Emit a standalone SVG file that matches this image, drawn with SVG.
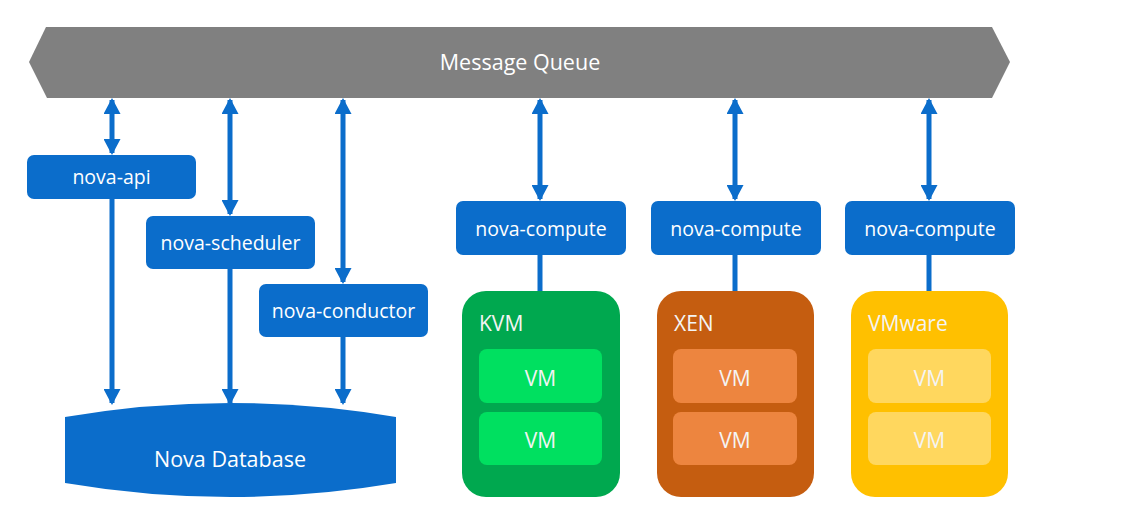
<svg xmlns="http://www.w3.org/2000/svg" width="1145" height="526" viewBox="0 0 1145 526">
<style>
  text { font-family: "Open Sans", "Noto Sans", "Liberation Sans", sans-serif; fill: #ffffff; }
  .node { fill: #0b6dcb; }
  .lbl { font-size: 19.5px; text-anchor: middle; }
  .conn { stroke: #0b6dcb; stroke-width: 5; fill: none; }
  .vmlbl { font-size: 21px; text-anchor: middle; fill: #f4f4f4; }
  .hvlbl { font-size: 21px; fill: #f4f4f4; }
</style>
<defs>
  <marker id="ah" viewBox="0 0 16 17" refX="14" refY="8.5" markerWidth="16" markerHeight="17" markerUnits="userSpaceOnUse" orient="auto-start-reverse">
    <path d="M0,0 L16,8.5 L0,17 Z" fill="#0b6dcb"/>
  </marker>
</defs>
<rect width="1145" height="526" fill="#ffffff"/>

<g id="connectors">
  <line class="conn" x1="112" y1="100" x2="112" y2="153" marker-start="url(#ah)" marker-end="url(#ah)"/>
  <line class="conn" x1="230" y1="100" x2="230" y2="214" marker-start="url(#ah)" marker-end="url(#ah)"/>
  <line class="conn" x1="343" y1="100" x2="343" y2="282" marker-start="url(#ah)" marker-end="url(#ah)"/>
  <line class="conn" x1="540" y1="100" x2="540" y2="199" marker-start="url(#ah)" marker-end="url(#ah)"/>
  <line class="conn" x1="735" y1="100" x2="735" y2="199" marker-start="url(#ah)" marker-end="url(#ah)"/>
  <line class="conn" x1="929" y1="100" x2="929" y2="199" marker-start="url(#ah)" marker-end="url(#ah)"/>
  <line class="conn" x1="112" y1="199" x2="112" y2="403" marker-end="url(#ah)"/>
  <line class="conn" x1="230" y1="269" x2="230" y2="403" marker-end="url(#ah)"/>
  <line class="conn" x1="343" y1="337" x2="343" y2="403" marker-end="url(#ah)"/>
  <line class="conn" x1="540" y1="255" x2="540" y2="292"/>
  <line class="conn" x1="735" y1="255" x2="735" y2="292"/>
  <line class="conn" x1="929" y1="255" x2="929" y2="292"/>
</g>

<g id="message-queue">
  <polygon points="46,27 992,27 1010,62 992,98 47,98 29,62" fill="#808080"/>
  <text x="520" y="70" font-size="21.5" text-anchor="middle" fill="#f2f2f2">Message Queue</text>
</g>

<g id="nova-api">
  <rect class="node" x="27" y="155" width="169" height="44" rx="7"/>
  <text class="lbl" x="111.5" y="184">nova-api</text>
</g>
<g id="nova-scheduler">
  <rect class="node" x="146" y="216" width="169" height="53" rx="7"/>
  <text class="lbl" x="230.5" y="250">nova-scheduler</text>
</g>
<g id="nova-conductor">
  <rect class="node" x="259" y="284" width="169" height="53" rx="7"/>
  <text class="lbl" x="343.5" y="318">nova-conductor</text>
</g>
<g id="nova-database">
  <path class="node" d="M65,417 Q230,389 396,417 L396,483 Q230,511 65,483 Z"/>
  <text x="230" y="467" font-size="21.5" text-anchor="middle">Nova Database</text>
</g>

<g id="nova-compute-1">
  <rect class="node" x="456" y="201" width="170" height="54" rx="7"/>
  <text class="lbl" x="541" y="236">nova-compute</text>
</g>
<g id="nova-compute-2">
  <rect class="node" x="651" y="201" width="170" height="54" rx="7"/>
  <text class="lbl" x="736" y="236">nova-compute</text>
</g>
<g id="nova-compute-3">
  <rect class="node" x="845" y="201" width="170" height="54" rx="7"/>
  <text class="lbl" x="930" y="236">nova-compute</text>
</g>

<g id="kvm">
  <rect x="462" y="291" width="158" height="206" rx="24" fill="#00a84f"/>
  <text class="hvlbl" x="479" y="331">KVM</text>
  <rect x="479" y="349" width="123" height="54" rx="8" fill="#00e060"/>
  <text class="vmlbl" x="540.5" y="386">VM</text>
  <rect x="479" y="412" width="123" height="53" rx="8" fill="#00e060"/>
  <text class="vmlbl" x="540.5" y="448">VM</text>
</g>
<g id="xen">
  <rect x="657" y="291" width="157" height="206" rx="24" fill="#c55d10"/>
  <text class="hvlbl" x="674" y="331">XEN</text>
  <rect x="673" y="349" width="124" height="54" rx="8" fill="#ed853f"/>
  <text class="vmlbl" x="735" y="386">VM</text>
  <rect x="673" y="412" width="124" height="53" rx="8" fill="#ed853f"/>
  <text class="vmlbl" x="735" y="448">VM</text>
</g>
<g id="vmware">
  <rect x="851" y="291" width="157" height="206" rx="24" fill="#ffc000"/>
  <text class="hvlbl" x="868" y="331">VMware</text>
  <rect x="868" y="349" width="123" height="54" rx="8" fill="#ffd75e"/>
  <text class="vmlbl" x="929.5" y="386">VM</text>
  <rect x="868" y="412" width="123" height="53" rx="8" fill="#ffd75e"/>
  <text class="vmlbl" x="929.5" y="448">VM</text>
</g>
</svg>
